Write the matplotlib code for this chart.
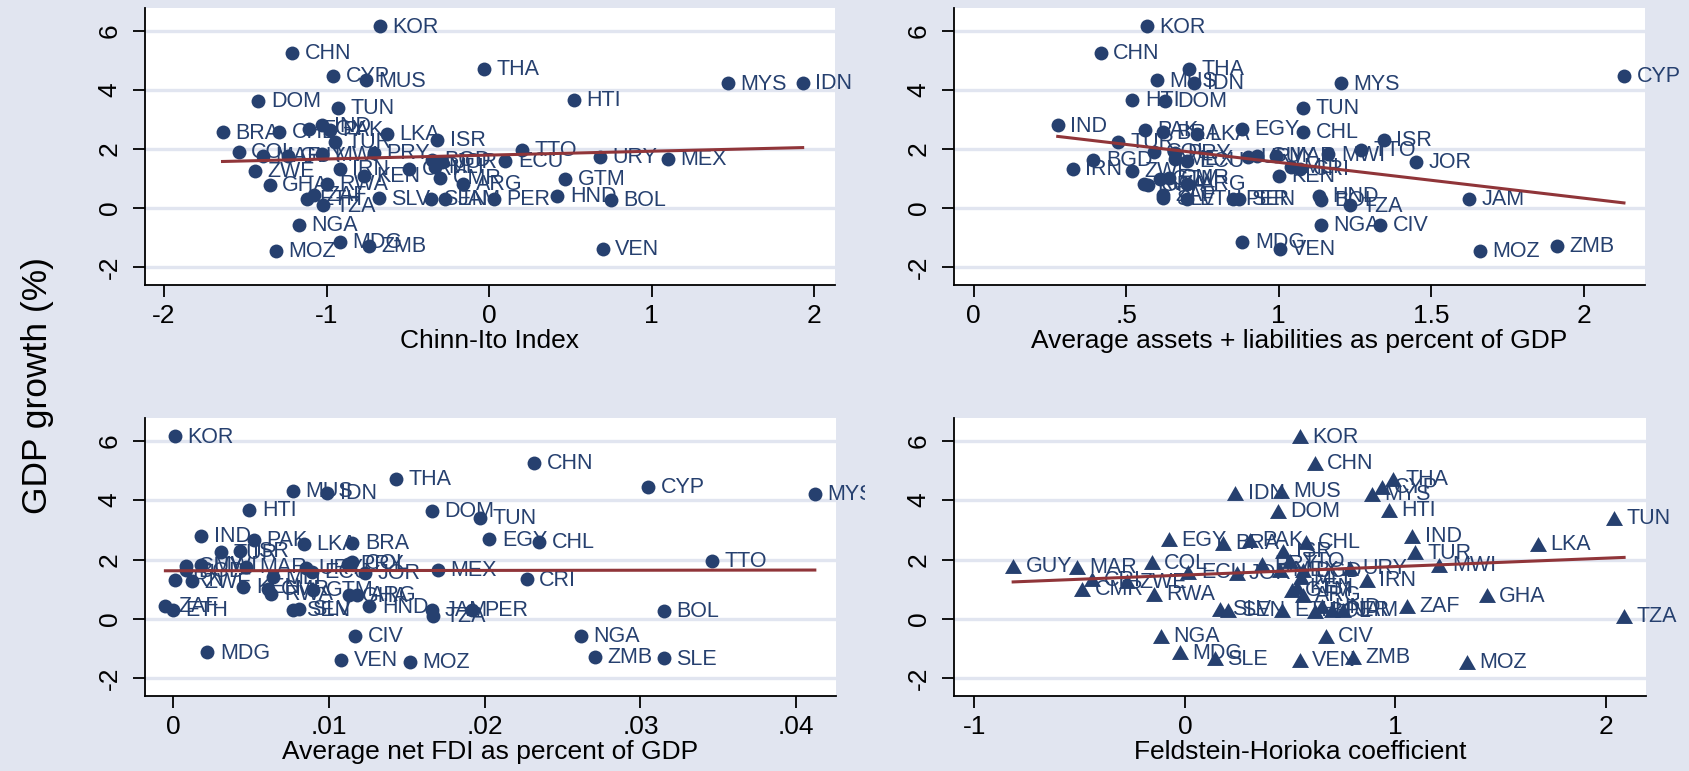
import numpy as np
import matplotlib.pyplot as plt
from matplotlib.transforms import Bbox, TransformedBbox

plt.rcParams['font.family'] = ['Liberation Sans', 'DejaVu Sans']

# country codes and average GDP growth (%)
countries = ['KOR', 'CHN', 'THA', 'CYP', 'MUS', 'IDN', 'MYS', 'HTI', 'DOM', 'TUN',
             'IND', 'EGY', 'PAK', 'CHL', 'BRA', 'LKA', 'ISR', 'TUR', 'TTO', 'COL',
             'PRY', 'MWI', 'GUY', 'MAR', 'URY', 'MEX', 'BGD', 'ECU', 'JOR', 'MLI',
             'CRI', 'IRN', 'ZWE', 'KEN', 'CMR', 'GTM', 'ARG', 'RWA', 'GHA', 'ZAF',
             'HND', 'SLV', 'SEN', 'ETH', 'JAM', 'PER', 'BOL', 'TZA', 'NGA', 'CIV',
             'MDG', 'ZMB', 'SLE', 'VEN', 'MOZ']
growth = [6.15, 5.26, 4.72, 4.46, 4.32, 4.24, 4.22, 3.67, 3.64, 3.40,
          2.80, 2.68, 2.66, 2.59, 2.56, 2.52, 2.30, 2.24, 1.96, 1.90,
          1.86, 1.82, 1.78, 1.76, 1.72, 1.66, 1.63, 1.59, 1.56, 1.40,
          1.33, 1.32, 1.26, 1.08, 1.02, 0.98, 0.81, 0.83, 0.79, 0.45,
          0.42, 0.33, 0.30, 0.30, 0.30, 0.30, 0.27, 0.09, -0.57, -0.57,
          -1.13, -1.27, -1.33, -1.37, -1.45]

# openness measures (None = country not in that panel)
chinn_ito = [-0.67, -1.21, -0.03, -0.96, -0.76, 1.93, 1.47, 0.52, -1.42, -0.93,
             -1.03, -1.11, -0.98, -1.29, -1.64, -0.63, -0.32, -0.95, 0.20, -1.54,
             -0.71, -1.03, -1.24, -1.39, 0.68, 1.10, -0.35, 0.10, -0.29, -0.33,
             -0.49, -0.92, -1.44, -0.77, -0.30, 0.47, -0.16, -1.00, -1.35, -1.08,
             0.42, -0.68, -0.36, -1.12, -0.27, 0.03, 0.75, -1.02, -1.17, None,
             -0.92, -0.74, None, 0.70, -1.31]
assets = [0.568, 0.417, 0.706, 2.132, 0.601, 0.724, 1.205, 0.521, 0.628, 1.081,
          0.276, 0.879, 0.562, 1.081, 0.622, 0.732, 1.344, 0.472, 1.270, 0.590,
          0.660, 1.163, 0.930, 0.990, 0.900, 0.660, 0.393, 0.700, 1.450, 1.040,
          1.070, 0.325, 0.519, 1.000, 0.640, 0.610, 0.700, 0.560, 0.573, 0.620,
          1.134, 0.622, 0.870, 0.700, 1.624, 0.850, 1.140, 1.234, 1.139, 1.333,
          0.881, 1.912, None, 1.003, 1.659]
fdi = [0.0001, 0.0232, 0.0143, 0.0305, 0.0077, 0.0099, 0.0412, 0.0049, 0.0166, 0.0197,
       0.0018, 0.0203, 0.0052, 0.0235, 0.0115, 0.0084, 0.0043, 0.0031, 0.0346, 0.0115,
       0.0112, 0.0018, 0.0008, 0.0047, 0.0085, 0.0170, 0.0008, 0.0089, 0.0123, 0.0064,
       0.0227, 0.0001, 0.0012, 0.0045, 0.0061, 0.0090, 0.0118, 0.0063, 0.0113, -0.0005,
       0.0126, 0.0081, 0.0077, 0.0000, 0.0166, 0.0192, 0.0315, 0.0167, 0.0262, 0.0117,
       0.0022, 0.0271, 0.0315, 0.0108, 0.0152]
fh = [0.546, 0.616, 0.987, 0.934, 0.456, 0.238, 0.887, 0.969, 0.443, 2.040,
      1.080, -0.076, 0.309, 0.573, 0.179, 1.675, 0.467, 1.093, 0.500, -0.158,
      0.364, 1.208, -0.816, -0.515, 0.784, 0.450, 0.560, 0.016, 0.245, 0.550,
      -0.443, 0.863, -0.277, 0.530, -0.488, 0.510, 0.560, -0.147, 1.433, 1.056,
      0.650, 0.166, 0.206, 0.459, 0.750, 0.700, 0.620, 2.086, -0.115, 0.668,
      -0.024, 0.800, 0.143, 0.546, 1.338]

xlabels = ['Chinn-Ito Index', 'Average assets + liabilities as percent of GDP',
           'Average net FDI as percent of GDP', 'Feldstein-Horioka coefficient']
xticks = [[-2, -1, 0, 1, 2], [0, 0.5, 1, 1.5, 2], [0, 0.01, 0.02, 0.03, 0.04], [-1, 0, 1, 2]]
xticklabels = [['-2', '-1', '0', '1', '2'], ['0', '.5', '1', '1.5', '2'],
               ['0', '.01', '.02', '.03', '.04'], ['-1', '0', '1', '2']]
yticks = [-2, 0, 2, 4, 6]
yticklabels = ['-2', '0', '2', '4', '6']

bg = '#E1E5F0'
navy = '#26406F'
maroon = '#903539'

W, H = 1690, 771
fig = plt.figure(figsize=(W / 100, H / 100), dpi=100, facecolor=bg)


def px_rect(l, t, r, b):
    return [l / W, 1 - b / H, (r - l) / W, (b - t) / H]


tri = [(-1, -0.875), (1, -0.875), (0, 0.875)]
panels = [
    (chinn_ito, (145, 8, 835, 285), (-2.117, 2.129), 'o', (0, 0, 865, 385)),
    (assets, (954, 8, 1645, 285), (-0.064, 2.201), 'o', (865, 0, 1690, 385)),
    (fdi, (145, 418, 836, 696), (-0.00181, 0.04256), 'o', (0, 385, 865, 771)),
    (fh, (954, 418, 1646, 696), (-1.097, 2.19), tri, (865, 385, 1690, 771)),
]

for i, (xs, box, xlim, mk, clip) in enumerate(panels):
    ax = fig.add_axes(px_rect(*box))
    ax.set_facecolor('white')
    keep = [j for j, v in enumerate(xs) if v is not None]
    x = np.array([xs[j] for j in keep])
    y = np.array([growth[j] for j in keep])
    names = [countries[j] for j in keep]

    size = 100 if mk == 'o' else 150
    ax.scatter(x, y, s=size, marker=mk, color=navy, linewidths=0, zorder=3)

    cb = TransformedBbox(Bbox.from_extents(clip[0] / W, 1 - clip[3] / H,
                                           clip[2] / W, 1 - clip[1] / H), fig.transFigure)
    for xx, yy, nm in zip(x, y, names):
        t = ax.annotate(nm, (xx, yy), xytext=(9, -0.5), textcoords='offset points',
                        ha='left', va='center', fontsize=15.5, color=navy, zorder=3,
                        annotation_clip=False)
        t.set_clip_box(cb)
        t.set_clip_on(True)

    # linear fit over the range of the data
    coef = np.polyfit(x, y, 1)
    xf = np.array([x.min(), x.max()])
    ax.plot(xf, np.polyval(coef, xf), color=maroon, lw=2.2, zorder=4)

    ax.set_xlim(xlim)
    ax.set_ylim(-2.6, 6.77)
    ax.set_xticks(xticks[i])
    ax.set_xticklabels(xticklabels[i])
    ax.set_yticks(yticks)
    ax.set_yticklabels(yticklabels)
    for lbl in ax.get_yticklabels():
        lbl.set_va('center')
    ax.yaxis.grid(True, color=bg, lw=2.4)
    ax.set_axisbelow(True)
    for s in ['top', 'right']:
        ax.spines[s].set_visible(False)
    for s in ['left', 'bottom']:
        ax.spines[s].set_linewidth(1.3)
    ax.tick_params(direction='out', length=8.7, width=1.3, labelsize=19)
    ax.tick_params(axis='x', pad=5)
    ax.tick_params(axis='y', labelrotation=90, pad=8)
    ax.set_xlabel(xlabels[i], fontsize=19, labelpad=1)

fig.text(38 / W, 1 - 385 / H, 'GDP growth (%)', rotation=90, fontsize=25.5,
         ha='center', va='center')

fig.savefig('out.png', dpi=100, facecolor=bg)
